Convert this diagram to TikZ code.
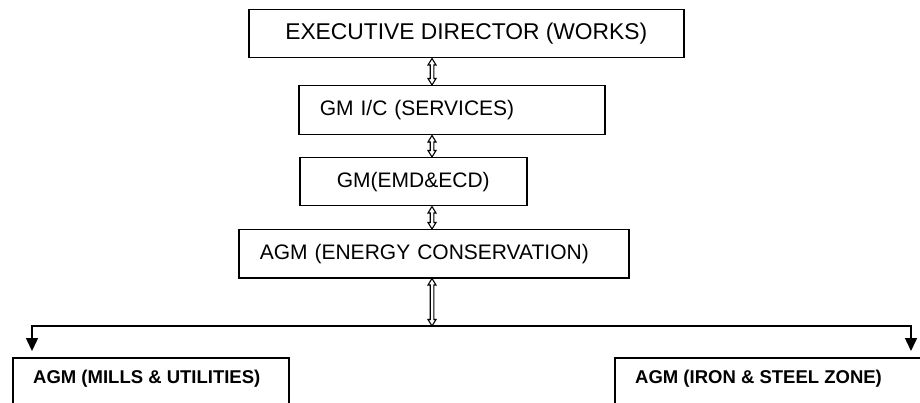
\documentclass[tikz,border=0pt]{standalone}
\usepackage{fontspec}
\setmainfont{Liberation Sans}
\usetikzlibrary{arrows.meta,calc}
\tikzset{
  box/.style={draw, line width=1.5pt, rectangle, anchor=north west, inner sep=0pt},
  regtext/.style={font=\fontsize{21}{24}\selectfont},
  boldtext/.style={font=\fontsize{18.5}{22}\selectfont\bfseries, anchor=west, inner sep=0pt},
  hollow/.style={draw, line width=1.1pt, fill=white, line join=miter},
  branch/.style={line width=1.5pt, -{Triangle[length=13pt,width=12pt]}, shorten >=6pt}
}
\newcommand\hollowdbl[2]{%
  \path[hollow] let \p1=#1, \p2=#2 in
    (\x1,\y1) -- (\x1+4pt,\y1-6.5pt) -- (\x1+1.8pt,\y1-6.5pt) -- (\x1+1.8pt,\y2+6.5pt)
    -- (\x1+4pt,\y2+6.5pt) -- (\x1,\y2) -- (\x1-4pt,\y2+6.5pt) -- (\x1-1.8pt,\y2+6.5pt)
    -- (\x1-1.8pt,\y1-6.5pt) -- (\x1-4pt,\y1-6.5pt) -- cycle;}
\begin{document}
\begin{tikzpicture}[x=1pt,y=-1pt]
\clip (0,0) rectangle (920,403);
\useasboundingbox (0,0) rectangle (920,403);
\fill[white] (0,0) rectangle (920,403);

\node[box, minimum width=435pt, minimum height=48pt, font=\fontsize{22.8}{26}\selectfont] (ed) at (248,9) {EXECUTIVE DIRECTOR (WORKS)};
\node[box, regtext, minimum width=306pt, minimum height=49pt, text width=264pt, inner xsep=21pt, align=left] (gmic) at (298,85) {GM I/C (SERVICES)};
\node[box, regtext, minimum width=227pt, minimum height=48pt] (gm) at (299,157) {GM(EMD\&ECD)};
\node[box, regtext, minimum width=390pt, minimum height=48pt, text width=348pt, inner xsep=21pt, align=left] (agm) at (238,229) {AGM (ENERGY CONSERVATION)};

\node[box, minimum width=276pt, minimum height=70pt] (lbox) at (12,357) {};
\node[boldtext] (ltext) at ($(lbox.north west)+(21,22)$) {AGM (MILLS \& UTILITIES)};
\node[box, minimum width=330pt, minimum height=70pt] (rbox) at (614,357) {};
\node[boldtext] (rtext) at ($(rbox.north west)+(21,22)$) {AGM (IRON \& STEEL ZONE)};

\coordinate (ax) at (432,0);
\coordinate (junc) at (432,326);
\coordinate (lx) at (32,0);
\coordinate (rx) at (911,0);

\hollowdbl{(ed.south -| ax)}{(gmic.north -| ax)}
\hollowdbl{(gmic.south -| ax)}{(gm.north -| ax)}
\hollowdbl{(gm.south -| ax)}{(agm.north -| ax)}
\hollowdbl{(agm.south -| ax)}{(junc)}

\draw[branch] (junc) -| (lbox.north -| lx);
\draw[branch] (junc) -| (rbox.north -| rx);
\end{tikzpicture}
\end{document}
